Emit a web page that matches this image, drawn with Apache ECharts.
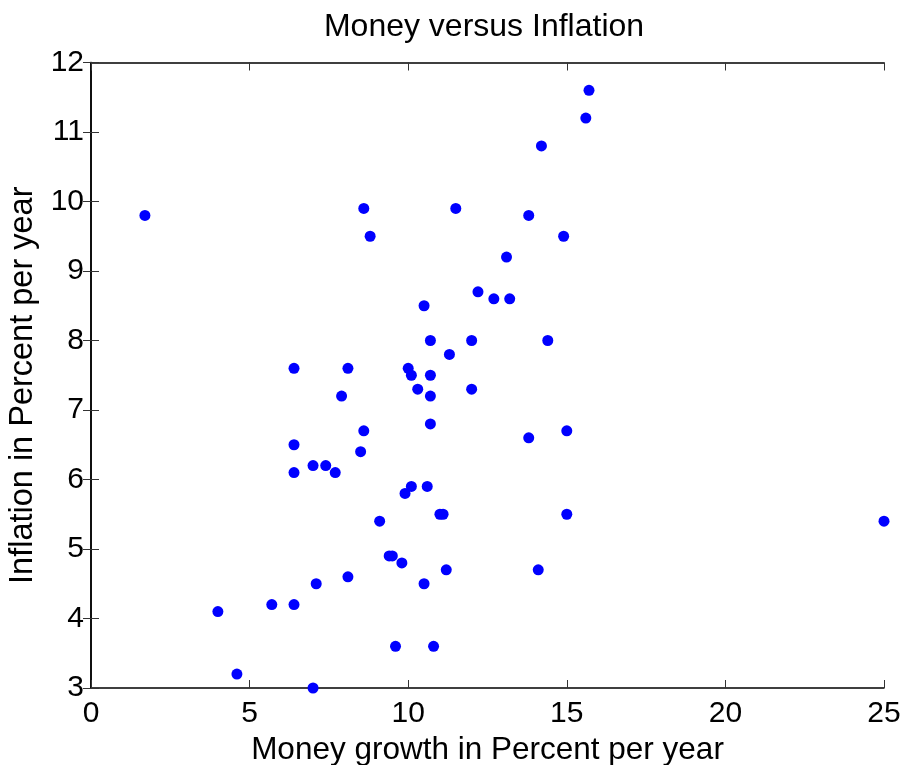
<!DOCTYPE html>
<html><head><meta charset="utf-8">
<script src="https://cdn.jsdelivr.net/npm/echarts@6/dist/echarts.min.js"></script>
<style>html,body{margin:0;padding:0;background:#fff}#c{width:907px;height:765px}</style>
</head><body><div id="c"></div>
<script>
const moneyGrowth = [1.7,4.0,4.6,5.7,6.4,6.4,6.4,6.4,7.0,7.0,7.1,7.4,7.7,7.9,8.1,8.1,8.5,8.6,8.6,8.8,9.1,9.4,9.5,9.6,9.8,9.9,10.0,10.1,10.1,10.3,10.5,10.5,10.6,10.7,10.7,10.7,10.7,10.8,11.0,11.1,11.2,11.3,11.5,12.0,12.0,12.2,12.7,13.1,13.2,13.8,13.8,14.1,14.2,14.4,14.9,15.0,15.0,15.6,15.7,25.0];
const inflation = [9.8,4.1,3.2,4.2,4.2,7.6,6.5,6.1,3.0,6.2,4.5,6.2,6.1,7.2,7.6,4.6,6.4,6.7,9.9,9.5,5.4,4.9,4.9,3.6,4.8,5.8,7.6,7.5,5.9,7.3,8.5,4.5,5.9,8.0,7.5,7.2,6.8,3.6,5.5,5.5,4.7,7.8,9.9,8.0,7.3,8.7,8.6,9.2,8.6,9.8,6.6,4.7,10.8,8.0,9.5,6.7,5.5,11.2,11.6,5.4];
const xTicks = [0,5,10,15,20,25];
const yTicks = [3,4,5,6,7,8,9,10,11,12];

const FONT = 'Liberation Sans, Arial, sans-serif';
const chart = echarts.init(document.getElementById('c'), null, {renderer:'canvas'});
const pts = moneyGrowth.map((x,i)=>[x, inflation[i]]);
const axLine = {show:true, lineStyle:{color:'#000', width:1.5}};
const tick = {show:true, inside:true, length:8, lineStyle:{color:'#333', width:1}};
chart.setOption({
  animation:false,
  backgroundColor:'#fff',
  title:{text:'Money versus Inflation', left:479, textAlign:'center', top:6,
    textStyle:{fontFamily:FONT, fontSize:32, fontWeight:'normal', color:'#000'}},
  grid:{left:91, right:23, top:62.5, bottom:77, containLabel:false, outerBoundsMode:'none'},
  xAxis:[{type:'value', min:xTicks[0], max:xTicks[xTicks.length-1], interval:5, position:'bottom',
      name:'Money growth in Percent per year', nameLocation:'middle', nameGap:40,
      nameTextStyle:{fontFamily:FONT, fontSize:31.5, color:'#000'},
      axisLine:axLine, axisTick:tick, splitLine:{show:false},
      axisLabel:{fontFamily:FONT, fontSize:30, color:'#000', margin:11}},
    {type:'value', min:xTicks[0], max:xTicks[xTicks.length-1], interval:5, position:'top',
      axisLine:axLine, axisTick:tick, splitLine:{show:false}, axisLabel:{show:false}}],
  yAxis:[{type:'value', min:yTicks[0], max:yTicks[yTicks.length-1], interval:1, position:'left',
      name:'Inflation in Percent per year', nameLocation:'middle', nameGap:48,
      nameTextStyle:{fontFamily:FONT, fontSize:32.5, color:'#000', padding:[0,20,0,0]},
      axisLine:axLine, axisTick:tick, splitLine:{show:false},
      axisLabel:{fontFamily:FONT, fontSize:30, color:'#000', margin:7}},
    {type:'value', min:yTicks[0], max:yTicks[yTicks.length-1], interval:1, position:'right',
      axisLine:axLine, axisTick:tick, splitLine:{show:false}, axisLabel:{show:false}}],
  series:[{type:'scatter', data:pts, symbol:'circle', symbolSize:11,
    itemStyle:{color:'#0000ff', opacity:1}, clip:false}]
});
</script></body></html>
